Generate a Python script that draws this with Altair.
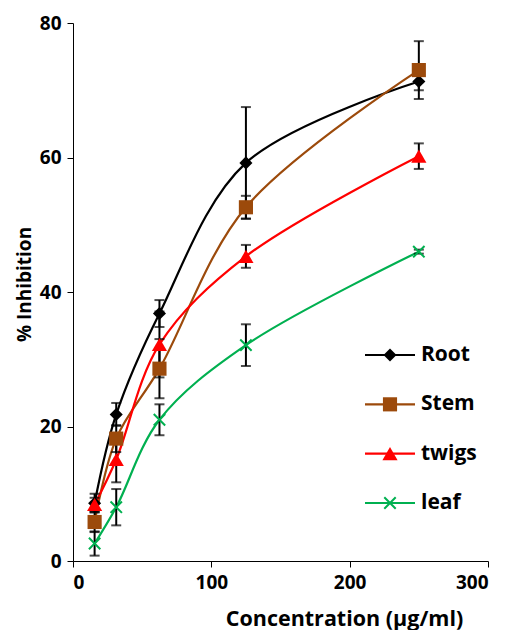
import altair as alt
import pandas as pd

conc = [15.625, 31.25, 62.5, 125, 250]
series = ["Root", "Stem", "twigs", "leaf"]
root = [8.6, 21.8, 36.8, 59.2, 71.3]
root_err = [1.4, 1.7, 2.0, 8.3, 1.3]
stem = [5.8, 18.2, 28.6, 52.6, 73.0]
stem_err = [1.5, 2.0, 4.4, 1.7, 4.3]
twigs = [8.4, 15.1, 32.2, 45.3, 60.2]
twigs_err = [1.0, 3.4, 4.9, 1.7, 1.9]
leaf = [2.6, 8.0, 21.0, 32.1, 46.0]
leaf_err = [1.8, 2.7, 2.3, 3.1, 0.3]
colors = ["#000000", "#9C4A0B", "#FF0000", "#00B050"]

rows = []
for name, vals, errs in zip(series, [root, stem, twigs, leaf],
                            [root_err, stem_err, twigs_err, leaf_err]):
    for c, v, e in zip(conc, vals, errs):
        rows.append({"series": name, "conc": c, "val": v,
                     "lo": v - e, "hi": v + e})
df = pd.DataFrame(rows)
legend_df = pd.DataFrame({"series": series})

FONT = "Open Sans"
x_scale = alt.Scale(domain=[0, 300], nice=False)
y_scale = alt.Scale(domain=[0, 80], nice=False)
color_scale = alt.Scale(domain=series, range=colors)

point_shapes = ["diamond", "square", "triangle-up", "M-1,-1L1,1M-1,1L1,-1"]
point_sizes = [170, 200, 230, 130]

x_enc = alt.X("conc:Q", scale=x_scale, title="Concentration (µg/ml)",
              axis=alt.Axis(values=[0, 100, 200, 300], grid=False,
                            titleX=271, titleY=58, titleBaseline="middle",
                            titleAlign="center", titleFontSize=21.5))
y_enc = alt.Y("val:Q", scale=y_scale, title="% Inhibition",
              axis=alt.Axis(values=[0, 20, 40, 60, 80], grid=False,
                            titleX=-49, titleY=261, titleBaseline="middle",
                            titleAlign="center", titleFontSize=19))

lines = alt.Chart(df).mark_line(interpolate="catmull-rom", strokeWidth=2.2).encode(
    x=x_enc, y=y_enc,
    color=alt.Color("series:N", scale=color_scale, legend=None),
)

err_rule = alt.Chart(df).mark_rule(color="black", strokeWidth=2).encode(
    x="conc:Q", y=alt.Y("lo:Q", scale=y_scale), y2="hi:Q")
cap_lo = alt.Chart(df).mark_tick(color="black", orient="horizontal",
                                 size=10, thickness=2).encode(
    x="conc:Q", y=alt.Y("lo:Q", scale=y_scale))
cap_hi = alt.Chart(df).mark_tick(color="black", orient="horizontal",
                                 size=10, thickness=2).encode(
    x="conc:Q", y=alt.Y("hi:Q", scale=y_scale))

point_layers = []
for name, shp, sz, col in zip(series, point_shapes, point_sizes, colors):
    is_leaf = name == "leaf"
    point_layers.append(
        alt.Chart(df).transform_filter(alt.datum.series == name).mark_point(
            shape=shp, size=sz, filled=not is_leaf, opacity=1,
            strokeWidth=2 if is_leaf else 0, color=col).encode(
            x="conc:Q", y="val:Q")
    )

data_layers = alt.layer(lines, err_rule, cap_lo, cap_hi, *point_layers)

# legend, drawn as its own small layer group
leg_y = alt.Y("series:N", scale=alt.Scale(type="point", domain=series,
                                          range=[332, 480], padding=0),
              axis=None)
leg_lines = alt.Chart(legend_df).mark_rule(strokeWidth=2.2).encode(
    y=leg_y, x=alt.value(292), x2=alt.value(342),
    color=alt.Color("series:N", scale=color_scale, legend=None),
)
leg_pts = []
for name, shp, sz, col in zip(series, point_shapes, point_sizes, colors):
    is_leaf = name == "leaf"
    leg_pts.append(
        alt.Chart(legend_df).transform_filter(alt.datum.series == name).mark_point(
            shape=shp, size=sz, filled=not is_leaf, opacity=1,
            strokeWidth=2 if is_leaf else 0, color=col).encode(
            y=leg_y, x=alt.value(317))
    )
leg_text = alt.Chart(legend_df).mark_text(
    align="left", baseline="middle", font=FONT, fontSize=21,
    fontWeight="bold", color="#000000").encode(
    y=leg_y, x=alt.value(348), text="series:N")
legend_layers = alt.layer(leg_lines, *leg_pts, leg_text)

chart = alt.layer(data_layers, legend_layers).resolve_scale(
    y="independent"
).properties(
    width=415, height=538,
    padding={"left": 7, "top": 6, "right": 0, "bottom": 0},
).configure_view(stroke=None).configure_axis(
    labelFont=FONT, labelFontSize=19, labelFontWeight="bold", labelColor="#000000",
    titleFont=FONT, titleFontWeight="bold", titleColor="#000000",
    domainColor="#000000", domainWidth=1, tickColor="#000000", tickWidth=1,
    tickSize=6, labelPadding=6,
)

chart.save("out.html", embed_options={"renderer": "svg", "actions": False})
